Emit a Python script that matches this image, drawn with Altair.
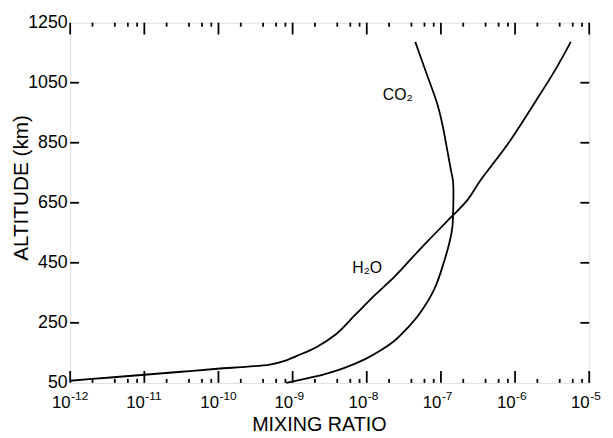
import altair as alt
import pandas as pd

# log10(mixing ratio) and altitude (km)
CO2_LOG = [-9.085, -8.75, -8.553, -8.30, -8.021, -7.80, -7.622, -7.45, -7.289, -7.089,
           -6.956, -6.876, -6.845, -6.835, -6.832, -6.838, -6.87, -6.912, -6.979, -7.045,
           -7.193, -7.346]
CO2_ALT = [50, 68, 80, 100, 129, 160, 191, 233, 280, 362,
           455, 527, 570, 620, 700, 725, 765, 822, 910, 976,
           1080, 1186]

H2O_LOG = [-12.0, -11.5, -11.0, -10.5, -10.017, -9.6, -9.308, -9.085, -8.952, -8.686,
           -8.420, -8.154, -7.888, -7.622, -7.399, -7.178, -6.867, -6.646, -6.468,
           -6.069, -5.669, -5.448, -5.248]
H2O_ALT = [57, 67, 77, 87, 97, 104, 111, 125, 139, 168,
           211, 277, 343, 405, 464, 522, 601, 658, 724,
           856, 1009, 1097, 1186]

LABELS = ["CO₂", "H₂O"]
LABEL_LOG = [-7.582, -7.994]
LABEL_ALT = [1010, 431]

X_MAJOR = [1e-12, 1e-11, 1e-10, 1e-9, 1e-8, 1e-7, 1e-6, 1e-5]
X_EXPONENTS = ["-12", "-11", "-10", "-9", "-8", "-7", "-6", "-5"]
X_MINOR = [m * 10.0 ** k for k in range(-12, -5) for m in (2, 4, 6, 8)]
Y_TICKS = [50, 250, 450, 650, 850, 1050, 1250]

W, H = 526, 365
FONT = "Liberation Sans"

rows = []
for i, (lx, a) in enumerate(zip(CO2_LOG, CO2_ALT)):
    rows.append({"series": "CO2", "x": 10 ** lx, "alt": a, "o": i})
for i, (lx, a) in enumerate(zip(H2O_LOG, H2O_ALT)):
    rows.append({"series": "H2O", "x": 10 ** lx, "alt": a, "o": i})
curves = pd.DataFrame(rows)

labels = pd.DataFrame({"t": LABELS, "x": [10 ** v for v in LABEL_LOG], "alt": LABEL_ALT})
xmaj = pd.DataFrame({"x": X_MAJOR, "e": X_EXPONENTS})
xmin = pd.DataFrame({"x": X_MINOR})
ytk = pd.DataFrame({"alt": Y_TICKS[1:-1]})

xscale = alt.Scale(type="log", domain=[1e-12, 1e-5], nice=False)
yscale = alt.Scale(domain=[50, 1250], nice=False, zero=False)

xaxis = alt.Axis(values=X_MAJOR, labelExpr="'10'", ticks=False, tickSize=0, domain=False,
                 grid=False, labelFont=FONT, labelFontSize=17, labelColor="black",
                 labelPadding=12, labelFlush=False, labelOverlap=False, labelAlign="right",
                 title="MIXING RATIO", titleFont=FONT, titleFontSize=20, titleFontWeight="normal",
                 titleColor="black", titleX=252, titleY=48, titleBaseline="alphabetic")
yaxis = alt.Axis(values=Y_TICKS, format="d", ticks=False, tickSize=0, domain=False, grid=False,
                 labelFont=FONT, labelFontSize=18, labelColor="black", labelPadding=3,
                 labelOverlap=False, labelFlush=False,
                 title="ALTITUDE (km)", titleFont=FONT, titleFontSize=21, titleFontWeight="normal",
                 titleColor="black", titleAngle=-90, titleX=-43, titleY=167,
                 titleBaseline="alphabetic", titleAlign="center")

X = alt.X("x:Q", scale=xscale, axis=xaxis)
Y = alt.Y("alt:Q", scale=yscale, axis=yaxis)

lines = alt.Chart(curves).mark_line(color="black", strokeWidth=1.8, interpolate="catmull-rom").encode(
    x=X, y=Y, detail="series:N", order="o:Q")

text = alt.Chart(labels).mark_text(font=FONT, fontSize=16, color="black").encode(
    x=X, y=Y, text="t:N")

expo = alt.Chart(xmaj).mark_text(font=FONT, fontSize=12, color="black", align="left",
                                 baseline="top", dx=1).encode(
    x=X, y=alt.value(H + 8), text="e:N")

rule = dict(color="black", strokeWidth=1.8)
bmaj = alt.Chart(xmaj).mark_rule(**rule).encode(x=X, y=alt.value(H), y2=alt.value(H - 12))
tmaj = alt.Chart(xmaj).mark_rule(**rule).encode(x=X, y=alt.value(0), y2=alt.value(12))
bmin = alt.Chart(xmin).mark_rule(**rule).encode(x=X, y=alt.value(H), y2=alt.value(H - 4))
tmin = alt.Chart(xmin).mark_rule(**rule).encode(x=X, y=alt.value(0), y2=alt.value(4))
lyt = alt.Chart(ytk).mark_rule(**rule).encode(y=Y, x=alt.value(0), x2=alt.value(9))
ryt = alt.Chart(ytk).mark_rule(**rule).encode(y=Y, x=alt.value(W - 9), x2=alt.value(W))

chart = alt.layer(lines, text, expo, bmaj, tmaj, bmin, tmin, lyt, ryt).properties(
    width=W, height=H,
    autosize=alt.AutoSizeParams(type="none"),
    padding={"left": 63, "top": 12, "right": 16, "bottom": 53},
).configure_view(stroke="black", strokeWidth=2.2).configure(background="white")

chart.save("out.html", embed_options={"renderer": "svg", "actions": False})
